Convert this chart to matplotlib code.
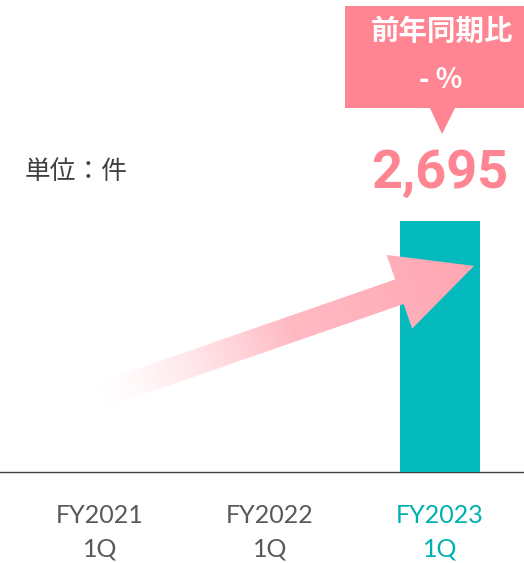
import numpy as np
import matplotlib
matplotlib.use('Agg')
import matplotlib.pyplot as plt
from matplotlib.patches import Polygon
from matplotlib.colors import to_rgb

# data
categories = ['FY2021\n1Q', 'FY2022\n1Q', 'FY2023\n1Q']
values = [np.nan, np.nan, 2695]
value_label = '2,695'
unit_label = '単位：件'
callout_title = '前年同期比'
callout_value = '- %'

# styles
teal = '#05babd'
teal_text = '#00b0b1'
pink = '#fe8591'
gray_text = '#595959'
W, H = 524, 563

fig = plt.figure(figsize=(W / 100, H / 100), dpi=100)
ax = fig.add_axes([0, 91 / H, 1, 472 / H])

x = np.arange(len(categories))
ax.bar(x, np.nan_to_num(values), width=0.47, color=teal, zorder=3)
ax.set_xlim(-0.588, 2.494)
ax.set_ylim(0, 5068)

for s in ['top', 'right', 'left']:
    ax.spines[s].set_visible(False)
ax.spines['bottom'].set_color('#404040')
ax.spines['bottom'].set_linewidth(1.0)
ax.set_yticks([])
ax.set_xticks(x)
ax.set_xticklabels(categories, fontsize=18, family=['Lato', 'DejaVu Sans'],
                   linespacing=1.55)
ax.tick_params(axis='x', length=0, pad=23)
for lbl, c in zip(ax.get_xticklabels(), [gray_text, gray_text, teal_text]):
    lbl.set_color(c)

# value label above bar
ax.annotate(value_label, (2, values[2]), xytext=(0, 34), textcoords='offset points',
            ha='center', va='center', fontsize=39, fontweight='bold',
            family=['Roboto', 'DejaVu Sans'], color=pink)

# gradient arrow from FY2021 up to the bar
arrow_tail = (-0.16, 720)
arrow_tip = (2.2, 2213)
p0 = ax.transData.transform(arrow_tail)
p1 = ax.transData.transform(arrow_tip)
d = (p1 - p0) / np.hypot(*(p1 - p0))
n = np.array([-d[1], d[0]])
head_len, head_w, shaft_w = 79, 78, 26
base = p1 - d * head_len
verts_px = [p0 + n * shaft_w / 2, base + n * shaft_w / 2, base + n * head_w / 2, p1,
            base - n * head_w / 2, base - n * shaft_w / 2, p0 - n * shaft_w / 2]
verts = ax.transData.inverted().transform(np.array(verts_px))
poly = Polygon(verts, closed=True, facecolor='none', edgecolor='none')
ax.add_patch(poly)

xs_px = np.array(verts_px)[:, 0]
ys_px = np.array(verts_px)[:, 1]
gx = np.arange(xs_px.min() - 2, xs_px.max() + 2)
gy = np.arange(ys_px.min() - 2, ys_px.max() + 2)
GX, GY = np.meshgrid(gx, gy)
L = np.hypot(*(p1 - p0))
t = ((GX - p0[0]) * d[0] + (GY - p0[1]) * d[1]) / L
s = np.clip((t - 0.07) / 0.48, 0, 1) ** 1.4
mid = np.array(to_rgb('#ffb8c2'))
tipc = np.array(to_rgb('#ffa6b2'))
white = np.ones(3)
h = np.clip((t - 0.6) / 0.4, 0, 1)[..., None]
col = white + (mid - white) * s[..., None]
col = col * (1 - h) + tipc * h
ext_lo = ax.transData.inverted().transform((gx[0], gy[0]))
ext_hi = ax.transData.inverted().transform((gx[-1], gy[-1]))
im = ax.imshow(col, extent=[ext_lo[0], ext_hi[0], ext_lo[1], ext_hi[1]],
               origin='lower', aspect='auto', zorder=4, interpolation='bilinear')
im.set_clip_path(poly)


# callout box (figure pixel coords)
def fp(px, py):
    return (px / W, 1 - py / H)


box = [fp(345, 6), fp(526, 6), fp(526, 108), fp(455, 108), fp(442, 134),
       fp(430, 108), fp(345, 108)]
fig.patches.append(Polygon(box, closed=True, transform=fig.transFigure,
                           facecolor=pink, edgecolor='none', zorder=5))
fig.text(*fp(442, 32), callout_title, ha='center', va='center', fontsize=20.5,
         fontweight='bold', color='white', family=['Noto Sans CJK JP', 'DejaVu Sans'],
         zorder=6)
fig.text(*fp(441, 80), callout_value, ha='center', va='center', fontsize=20,
         fontweight='bold', color='white', family=['Noto Sans CJK JP', 'DejaVu Sans'],
         zorder=6)

fig.text(*fp(25, 172), unit_label, ha='left', va='center', fontsize=18.5,
         color='#404040', family=['Noto Sans CJK JP', 'DejaVu Sans'])

fig.savefig('out.png', dpi=100)
